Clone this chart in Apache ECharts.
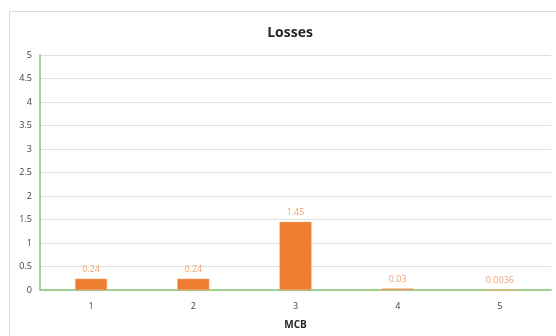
<!DOCTYPE html>
<html>
<head>
<meta charset="utf-8">
<script src="https://cdn.jsdelivr.net/npm/echarts@6/dist/echarts.min.js"></script>
<style>
  html, body { margin: 0; padding: 0; background: #fff; }
  #frame { position: absolute; left: 9px; top: 11px; width: 560px; height: 340px; border: 1px solid #d9d9d9; box-sizing: border-box; }
  #chart { position: absolute; left: 0; top: 0; width: 556px; height: 336px; }
</style>
</head>
<body>
<div id="frame"></div>
<div id="chart"></div>
<script>
// Losses per MCB
const categories = ['1', '2', '3', '4', '5'];
const losses = [0.24, 0.24, 1.45, 0.03, 0.0036];
const yTicks = { min: 0, max: 5, step: 0.5 };

const FONT = '"Open Sans", "Liberation Sans", sans-serif';
const chart = echarts.init(document.getElementById('chart'), null, { renderer: 'canvas' });

chart.setOption({
  animation: false,
  backgroundColor: 'transparent',
  title: {
    text: 'Losses',
    left: 285,
    top: 21,
    textAlign: 'center',
    textStyle: { fontFamily: FONT, fontSize: 14, fontWeight: 'bold', color: '#262626' }
  },
  grid: { left: 40, right: 5, top: 55, bottom: 46, containLabel: false },
  xAxis: {
    type: 'category',
    data: categories,
    name: 'MCB',
    nameLocation: 'middle',
    nameGap: 30,
    nameTextStyle: { fontFamily: FONT, fontSize: 10, fontWeight: 'bold', color: '#262626' },
    axisLine: { lineStyle: { color: '#8cc46c', width: 1.5 } },
    axisTick: { show: false },
    axisLabel: { fontFamily: FONT, fontSize: 9, color: '#404040', margin: 12 }
  },
  yAxis: {
    type: 'value',
    min: yTicks.min,
    max: yTicks.max,
    interval: yTicks.step,
    axisLine: { show: true, lineStyle: { color: '#8cc46c', width: 1.5 } },
    axisTick: { show: false },
    axisLabel: { fontFamily: FONT, fontSize: 9, color: '#404040', margin: 8 },
    splitLine: { lineStyle: { color: '#e0e0e0', width: 1 } }
  },
  series: [{
    type: 'bar',
    data: losses,
    barWidth: 32,
    itemStyle: { color: '#ed7d31', borderColor: '#f4a874', borderWidth: 0.5 },
    label: {
      show: true,
      position: 'top',
      distance: 5,
      fontFamily: FONT,
      fontSize: 9,
      color: '#f4a06a',
      formatter: p => String(p.value)
    }
  }]
});
</script>
</body>
</html>
